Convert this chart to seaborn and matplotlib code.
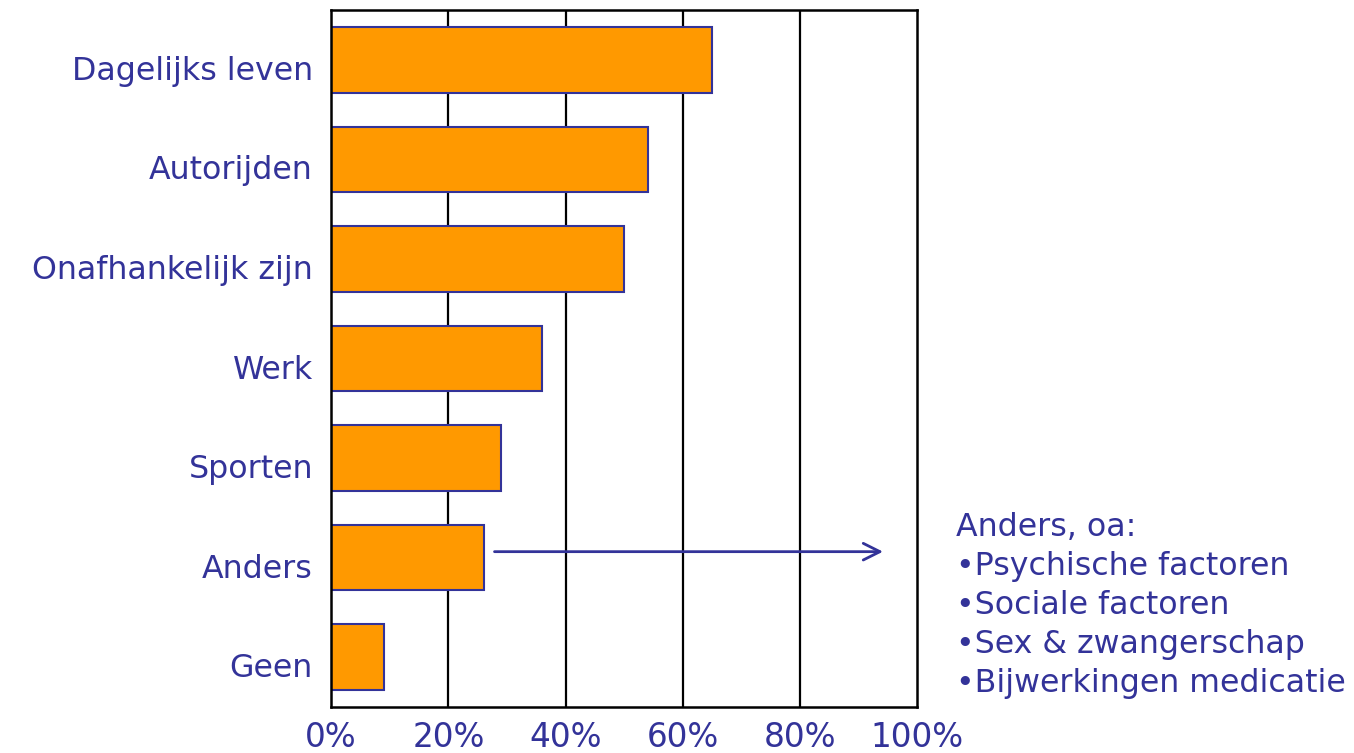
import numpy as np
import pandas as pd
import matplotlib
matplotlib.use("Agg")
import matplotlib.pyplot as plt
import matplotlib.transforms as mtransforms
import seaborn as sns

# data (percent of respondents)
categories = ["Dagelijks leven", "Autorijden", "Onafhankelijk zijn", "Werk",
              "Sporten", "Anders", "Geen"]
values = [65, 54, 50, 36, 29, 26, 9]
x_ticks = [0, 20, 40, 60, 80, 100]
x_ticklabels = ["0%", "20%", "40%", "60%", "80%", "100%"]
anders_lines = ["Anders, oa:", "\u2022Psychische factoren", "\u2022Sociale factoren",
                "\u2022Sex & zwangerschap", "\u2022Bijwerkingen medicatie"]

blue = "#333399"
orange = "#FF9900"

sns.set_style("white")
plt.rcParams["font.family"] = ["DejaVu Sans"]

df = pd.DataFrame({"cat": categories, "val": values})

fig = plt.figure(figsize=(13.54, 7.53), dpi=100)
ax = fig.add_axes([0.2445, 0.0611, 0.4331, 0.9256])

sns.barplot(data=df, x="val", y="cat", orient="h", color=orange, saturation=1,
            edgecolor=blue, linewidth=1.5, width=0.66, ax=ax)

ax.set_xlim(0, 100)
ax.set_ylim(len(categories) - 0.5, -0.5)
ax.set_xlabel("")
ax.set_ylabel("")

# vertical gridlines
for xv in x_ticks[1:-1]:
    ax.axvline(xv, color="black", lw=1.6, zorder=0)

for sp in ax.spines.values():
    sp.set_visible(True)
    sp.set_color("black")
    sp.set_linewidth(1.8)

ax.set_xticks(x_ticks)
ax.set_xticklabels(x_ticklabels, color=blue, fontsize=23.5)
ax.tick_params(axis="x", direction="out", length=6, width=1.6, color="black", pad=4)

ax.set_yticks(np.arange(len(categories)))
ax.set_yticklabels(categories, color=blue, fontsize=22.8)
ax.set_yticks(np.arange(len(categories) + 1) - 0.5, minor=True)
ax.tick_params(axis="y", which="major", length=0, pad=13)
ax.tick_params(axis="y", which="minor", direction="out", length=6, width=1.6, color="black")

# labels sit slightly below bar centres in the original
offset = mtransforms.ScaledTranslation(0, -8 / 100, fig.dpi_scale_trans)
for lbl in ax.get_yticklabels():
    lbl.set_transform(lbl.get_transform() + offset)

# arrow from Anders bar to the note
ax.annotate("", xy=(94.6, 4.94), xytext=(27.4, 4.94),
            arrowprops=dict(arrowstyle="->", color=blue, lw=2, mutation_scale=30),
            annotation_clip=False)

for i, line in enumerate(anders_lines):
    fig.text(0.706, 1 - (528 + i * 38.8) / 753, line, color=blue, fontsize=22.8,
             ha="left", va="center")

fig.savefig("out.png", dpi=100)
